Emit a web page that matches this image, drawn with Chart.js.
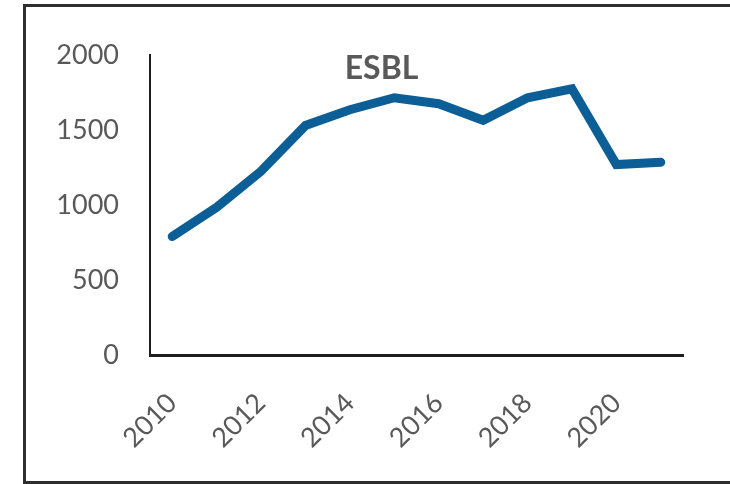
<!DOCTYPE html>
<html>
<head>
<meta charset="utf-8">
<script src="https://cdn.jsdelivr.net/npm/chart.js@4"></script>
<style>
  html, body { margin: 0; padding: 0; background: #fff; overflow: hidden; width: 730px; height: 484px; }
  #frame {
    position: absolute; left: 23px; top: 4px; width: 1200px; height: 480px;
    box-sizing: border-box; border: 3px solid #2e2e2e; border-right: none;
  }
  #chart { position: absolute; left: 0; top: 0; }
</style>
</head>
<body>
<div id="frame"></div>
<canvas id="chart" width="730" height="484"></canvas>
<script>
// data
const years = ['2010', '2011', '2012', '2013', '2014', '2015', '2016', '2017', '2018', '2019', '2020', '2021']
const esbl = [790, 985, 1225, 1530, 1635, 1715, 1675, 1565, 1715, 1775, 1270, 1285]
const yTicks = [0, 500, 1000, 1500, 2000]
const titleText = 'ESBL'

const grey = '#595959'
const blue = '#0b5e96'

// Excel-style title that sits inside the plot area
const overlayTitle = {
  id: 'overlayTitle',
  afterDraw(chart) {
    const { ctx, chartArea } = chart
    ctx.save()
    ctx.font = 'bold 32px Lato'
    ctx.fillStyle = grey
    ctx.textAlign = 'center'
    ctx.textBaseline = 'middle'
    ctx.fillText(titleText, (chartArea.left + chartArea.right) / 2 - 35, chartArea.top + 14)
    ctx.restore()
  }
}

const ctx = document.getElementById('chart').getContext('2d')
const chart = new Chart(ctx, {
  type: 'line',
  data: {
    labels: years,
    datasets: [{
      label: titleText,
      data: esbl,
      borderColor: blue,
      borderWidth: 9,
      borderCapStyle: 'round',
      borderJoinStyle: 'miter',
      pointRadius: 0,
      tension: 0,
      fill: false
    }]
  },
  options: {
    responsive: false,
    devicePixelRatio: 1,
    animation: false,
    layout: {
      padding: { left: 30, right: 47, top: 55, bottom: 0 }
    },
    plugins: {
      legend: { display: false },
      title: { display: false },
      tooltip: { enabled: false }
    },
    scales: {
      x: {
        offset: true,
        grid: { display: false, drawTicks: false },
        border: { display: true, color: '#1e1e1e', width: 3 },
        afterFit: (scale) => { scale.height = 129 },
        ticks: {
          autoSkip: false,
          maxRotation: 45,
          minRotation: 45,
          padding: 32,
          color: grey,
          font: { family: 'Lato', size: 27 },
          callback: (val, i) => (i % 2 === 0 ? years[i] : '')
        }
      },
      y: {
        min: 0,
        max: 2000,
        afterFit: (scale) => { scale.width = 120 },
        afterBuildTicks: (scale) => { scale.ticks = yTicks.map(v => ({ value: v })) },
        grid: { display: false, drawTicks: false },
        border: { display: true, color: '#1e1e1e', width: 2 },
        ticks: {
          padding: 31,
          color: grey,
          font: { family: 'Lato', size: 27 },
          callback: (val) => String(val)
        }
      }
    }
  },
  plugins: [overlayTitle]
})
</script>
</body>
</html>
